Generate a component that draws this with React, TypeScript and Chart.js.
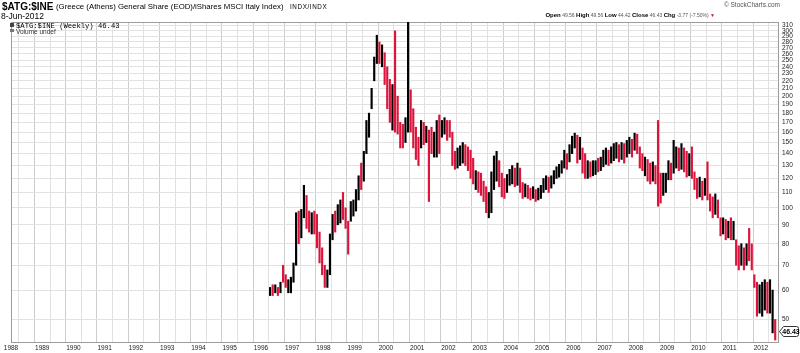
import React, { useEffect, useRef } from "react";
import { Chart, registerables } from "chart.js";

Chart.register(...registerables);

// ---- data (monthly high/low) ----
const firstYear = 1996;
const firstMonth = 4; // April 1996

const lows = [
  // 1996 Apr-Dec
  58, 58, 59, 58, 59, 63, 61, 59, 59,
  // 1997
  63, 70, 80, 83, 94, 88, 86, 85, 85, 78, 71, 66,
  // 1998
  61, 61, 66, 82, 86, 90, 91, 93, 88, 75, 92, 95,
  // 1999
  98, 105, 112, 118, 140, 155, 185, 220, 245, 245, 240, 215,
  // 2000
  185, 170, 162, 160, 158, 145, 145, 150, 160, 160, 145, 135,
  // 2001
  130, 145, 148, 150, 104, 140, 137, 137, 140, 155, 158, 152,
  // 2002
  155, 130, 127, 128, 130, 132, 130, 126, 120, 116, 112, 110,
  // 2003
  108, 104, 97, 94, 97, 112, 118, 114, 107, 106, 110, 115,
  // 2004
  116, 114, 115, 110, 106, 107, 106, 105, 106, 104, 105, 106,
  // 2005
  110, 112, 110, 113, 116, 120, 121, 124, 128, 127, 133, 140,
  // 2006
  145, 132, 135, 124, 120, 120, 121, 122, 123, 125, 126, 129,
  // 2007
  131, 130, 132, 134, 136, 133, 135, 132, 137, 140, 137, 143,
  // 2008
  140, 128, 126, 122, 118, 116, 118, 116, 101, 103, 108, 110,
  // 2009
  119, 119, 124, 128, 126, 127, 125, 121, 122, 120, 112, 106,
  // 2010
  107, 105, 108, 105, 98, 94, 96, 94, 84, 85, 82, 83,
  // 2011
  82, 82, 70, 68, 70, 68, 70, 72, 68, 61, 51, 52,
  // 2012 Jan-Jun
  51, 53, 52, 52, 46, 44,
];

const highs = [
  // 1996 Apr-Dec
  61, 62, 62, 61, 63, 70, 66, 64, 65,
  // 1997
  71, 97, 98, 99, 115, 108, 98, 97, 98, 96, 86, 78,
  // 1998
  70, 68, 85, 96, 98, 102, 105, 110, 100, 92, 104, 105,
  // 1999
  112, 122, 132, 142, 172, 180, 210, 255, 292, 280, 275, 262,
  // 2000
  240, 222, 215, 300, 200, 170, 168, 175, 330, 208, 185, 165,
  // 2001
  155, 172, 170, 166, 162, 165, 160, 172, 178, 172, 175, 172,
  // 2002
  172, 160, 142, 145, 147, 150, 148, 146, 143, 136, 126, 125,
  // 2003
  124, 118, 114, 110, 125, 138, 142, 134, 124, 120, 123, 127,
  // 2004
  130, 128, 132, 128, 117, 116, 115, 113, 114, 112, 113, 115,
  // 2005
  120, 122, 121, 122, 126, 129, 131, 134, 143, 140, 148, 156,
  // 2006
  159, 157, 155, 145, 140, 134, 133, 134, 134, 136, 137, 143,
  // 2007
  145, 143, 146, 149, 150, 148, 150, 149, 152, 155, 153, 159,
  // 2008
  158, 146, 140, 137, 135, 132, 133, 130, 172, 124, 124, 124,
  // 2009
  134, 132, 152, 146, 145, 149, 145, 142, 140, 146, 125, 120,
  // 2010
  121, 118, 120, 133, 109, 107, 109, 105, 94, 94, 93, 92,
  // 2011
  94, 92, 82, 79, 80, 78, 80, 88, 80, 66, 63, 62,
  // 2012 Jan-Jun
  63, 64, 63, 64, 60, 50,
];

// u = up bar (black), d = down bar (red)
const moves = (
  "udududduu" +
  "uuduudduddd" + "d" +
  "duuuduuddduu" +
  "uuduuuuuudud" +
  "ddudddduuddd" +
  "dudu" + "dduuduud" +
  "ddduuuddddud" +
  "ddduuuudddu" + "u" +
  "ududduddudu" + "u" +
  "uuduuuuuuduu" +
  "udud" + "dudu" + "udu" + "u" +
  "uduuududuudu" +
  "ddduddudd" + "duu" +
  "uduudud" + "dudd" + "d" +
  "udu" + "dddudd" + "udu" +
  "duddu" + "duddddu" +
  "uuduud"
).split("");

const lastClose = 46.43;
const yTicks = [50, 60, 70, 80, 90, 100, 110, 120, 130, 140, 150, 160, 170, 180, 190,
  200, 210, 220, 230, 240, 250, 260, 270, 280, 290, 300, 310];
const firstAxisYear = 1988;
const lastAxisYear = 2012;
const xMin = 1988;
const xMax = 2012.58;
const yMin = 43.2;
const yMax = 317;

const upColor = "#000000";
const downColor = "#dc143c";
const sans = '"Liberation Sans", Arial, sans-serif';

const framePlugin = {
  id: "frame",
  beforeDatasetsDraw(chart: any) {
    const { ctx, chartArea: a } = chart;
    ctx.save();
    ctx.strokeStyle = "#9c9c9c";
    ctx.lineWidth = 1;
    ctx.strokeRect(Math.round(a.left) + 0.5, Math.round(a.top) + 0.5,
      Math.round(a.right - a.left) - 1, Math.round(a.bottom - a.top) - 1);
    ctx.restore();
  },
  afterDraw(chart: any) {
    const { ctx, chartArea: a } = chart;
    const y = Math.round(chart.scales.y.getPixelForValue(lastClose)) + 0.5;
    const x0 = a.right + 0.5;
    const x1 = 798.5;
    const h = 5;
    ctx.save();
    ctx.beginPath();
    ctx.moveTo(x0, y);
    ctx.lineTo(x0 + 4, y - h);
    ctx.lineTo(x1 - 2, y - h);
    ctx.quadraticCurveTo(x1, y - h, x1, y - h + 2);
    ctx.lineTo(x1, y + h - 2);
    ctx.quadraticCurveTo(x1, y + h, x1 - 2, y + h);
    ctx.lineTo(x0 + 4, y + h);
    ctx.closePath();
    ctx.fillStyle = "#ffffff";
    ctx.fill();
    ctx.strokeStyle = "#333";
    ctx.lineWidth = 1;
    ctx.stroke();
    ctx.fillStyle = "#000";
    ctx.font = `bold 7px ${sans}`;
    ctx.textAlign = "center";
    ctx.textBaseline = "middle";
    ctx.fillText(lastClose.toFixed(2), (x0 + 4 + x1) / 2, y + 0.5);
    ctx.restore();
  },
};

export default function App() {
  const canvasRef = useRef<HTMLCanvasElement | null>(null);

  useEffect(() => {
    const canvas = canvasRef.current;
    if (!canvas) return;
    const points = lows.map((lo, i) => ({
      x: firstYear + (firstMonth - 1 + i + 0.5) / 12,
      y: [lo, highs[i]],
    }));
    const colors = moves.map((m) => (m === "u" ? upColor : downColor));
    const xGrid: number[] = [];
    for (let v = firstAxisYear; v <= lastAxisYear + 0.5; v += 0.5) xGrid.push(v);

    const chart = new Chart(canvas, {
      type: "bar",
      data: {
        datasets: [
          {
            data: points as any,
            backgroundColor: colors,
            borderWidth: 0,
            barThickness: 1.5,
          },
        ],
      },
      options: {
        animation: false,
        responsive: false,
        maintainAspectRatio: false,
        events: [],
        layout: { padding: { left: 11, top: 22, right: 0, bottom: 0 } },
        plugins: { legend: { display: false }, tooltip: { enabled: false } },
        scales: {
          x: {
            type: "linear",
            min: xMin,
            max: xMax,
            offset: false,
            grid: {
              drawTicks: false,
              lineWidth: 1,
              color: (c: any) =>
                c.tick && Number.isInteger(c.tick.value) ? "#cdcdcd" : "#e1e1e1",
            },
            border: { display: false },
            ticks: {
              autoSkip: false,
              maxRotation: 0,
              minRotation: 0,
              padding: 1,
              color: "#222",
              font: { family: sans, size: 6.5 },
              callback: (v: any) => (Number.isInteger(v) ? String(v) : ""),
            },
            afterBuildTicks: (axis: any) => {
              axis.ticks = xGrid.map((v) => ({ value: v }));
            },
            afterFit: (axis: any) => {
              axis.height = 10;
            },
          },
          y: {
            type: "logarithmic",
            position: "right",
            min: yMin,
            max: yMax,
            grid: { drawTicks: false, color: "#e2e2e2", lineWidth: 1 },
            border: { display: false },
            ticks: {
              autoSkip: false,
              padding: 3,
              color: "#222",
              font: { family: sans, size: 6.5 },
              callback: (v: any) => String(v),
            },
            afterBuildTicks: (axis: any) => {
              axis.ticks = yTicks.map((v) => ({ value: v }));
            },
            afterFit: (axis: any) => {
              axis.width = 21;
            },
          },
        },
      },
      plugins: [framePlugin],
    });
    return () => chart.destroy();
  }, []);

  const abs = (s: React.CSSProperties): React.CSSProperties => ({
    position: "absolute",
    whiteSpace: "nowrap",
    lineHeight: 1,
    ...s,
  });
  const lbl: React.CSSProperties = { font: `bold 6px ${sans}`, color: "#000" };

  return (
    <div style={{ position: "absolute", left: 0, top: 0, width: 800, height: 353, background: "#fff", overflow: "hidden" }}>
      <canvas ref={canvasRef} width={800} height={353} style={{ display: "block", width: 800, height: 353 }} />
      <div style={abs({ left: 2, top: 1, font: `bold 10px ${sans}`, color: "#000" })}>$ATG:$INE</div>
      <div style={abs({ left: 56, top: 2, font: `7.8px ${sans}`, color: "#000" })}>
        (Greece (Athens) General Share (EOD)/iShares MSCI Italy Index)
      </div>
      <div style={abs({ left: 290, top: 3, font: `6.3px ${sans}`, letterSpacing: "0.6px", color: "#000" })}>INDX/INDX</div>
      <div style={abs({ left: 1, top: 11, font: `8.5px ${sans}`, color: "#000" })}>8-Jun-2012</div>
      <div style={abs({ right: 20, top: 1, font: `6.5px ${sans}`, color: "#555" })}>© StockCharts.com</div>
      <div style={abs({ right: 85, top: 12, font: `5px ${sans}`, color: "#555" })}>
        <b style={lbl}>Open</b> 49.56{" "}
        <b style={lbl}>High</b> 49.56{" "}
        <b style={lbl}>Low</b> 44.42{" "}
        <b style={lbl}>Close</b> 46.43{" "}
        <b style={lbl}>Chg</b> -3.77 (-7.50%){" "}
        <span style={{ color: "#c8102e", fontSize: 5 }}>▼</span>
      </div>
      <div style={abs({ left: 10, top: 23, width: 4, height: 4, background: "#444" })} />
      <div style={abs({ left: 16, top: 22, font: `7.2px "Liberation Mono", "DejaVu Sans Mono", monospace`, color: "#000" })}>
        $ATG:$INE (Weekly) 46.43
      </div>
      <div style={abs({ left: 10, top: 29, width: 4, height: 3, background: "#777" })} />
      <div style={abs({ left: 16, top: 28, font: `6.5px ${sans}`, color: "#333" })}>Volume undef</div>
    </div>
  );
}
